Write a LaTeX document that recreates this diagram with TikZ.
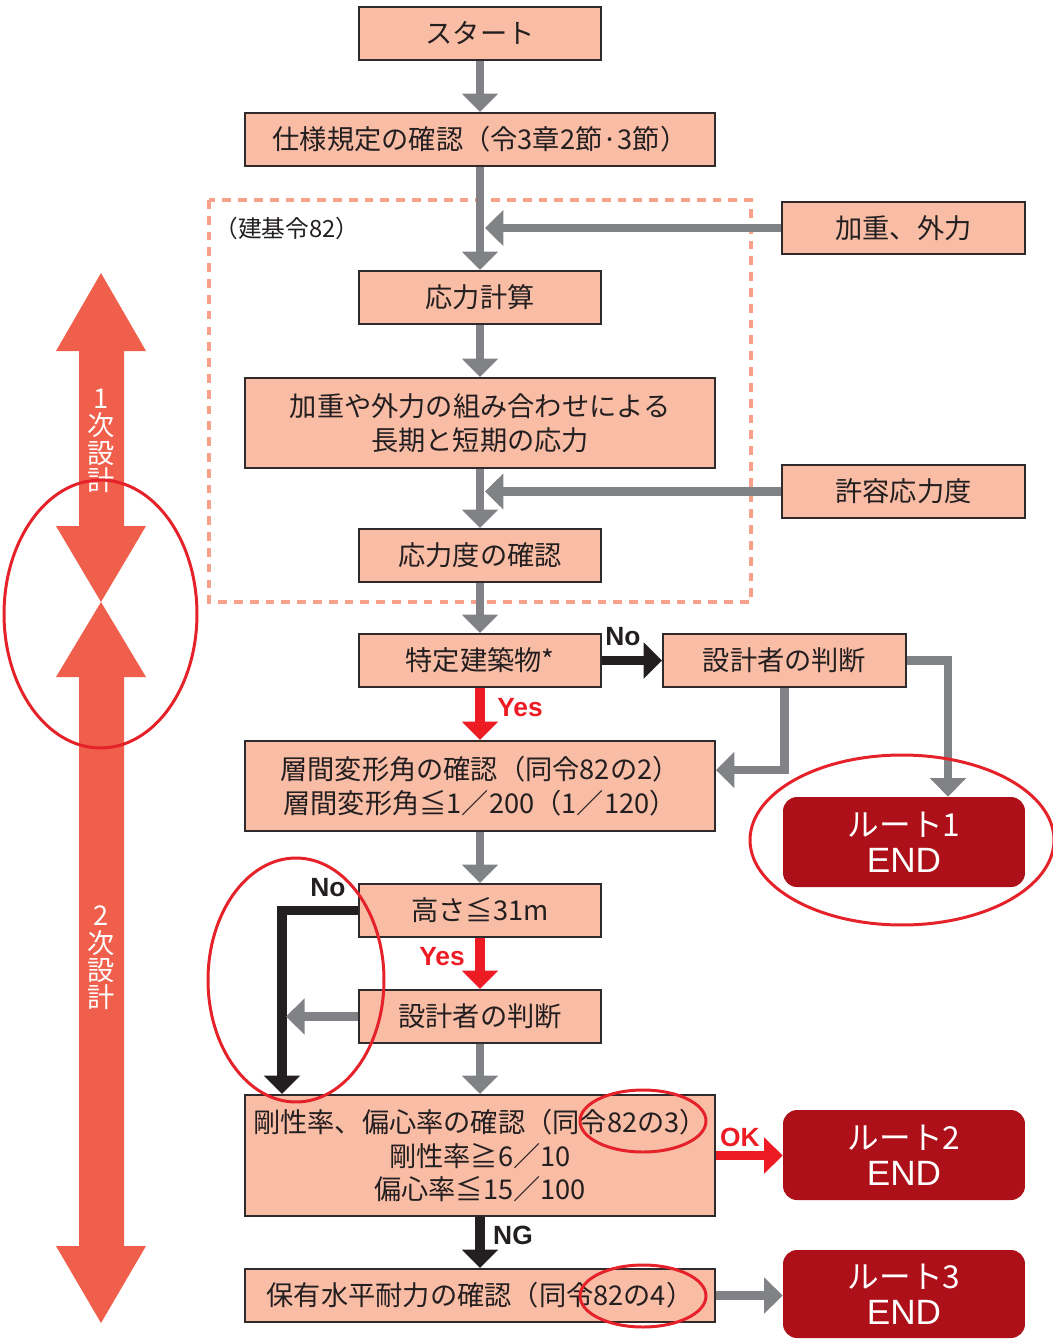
\documentclass[tikz,border=0pt]{standalone}
\usepackage{fontspec}
\setmainfont{Noto Sans CJK JP}
\newfontfamily\labfont{Liberation Sans}
\usetikzlibrary{arrows.meta,calc}
\definecolor{peach}{HTML}{F9BCA5}
\definecolor{bordc}{HTML}{2F2A2B}
\definecolor{textc}{HTML}{231F20}
\definecolor{grayc}{HTML}{808285}
\definecolor{blackc}{HTML}{231F20}
\definecolor{redc}{HTML}{ED1C24}
\definecolor{endc}{HTML}{AD1019}
\definecolor{orangec}{HTML}{F05F4B}
\definecolor{ellc}{HTML}{E52129}
\definecolor{dashc}{HTML}{F8A08A}
\newcommand{\routeword}{{\labfont\fontsize{20}{20.5}\selectfont END}}
\begin{document}
\begin{tikzpicture}[x=0.02cm,y=-0.02cm,
  box/.style={draw=bordc, fill=peach, line width=1.1pt, inner sep=0pt, align=center, text=textc,
    font=\fontsize{15.5}{19}\selectfont},
  smallbox/.style={box, minimum width=4.84cm, minimum height=1.06cm},
  widebox/.style={box, minimum width=9.4cm},
  endbox/.style={fill=endc, rounded corners=0.28cm, inner sep=0pt, minimum width=4.84cm, text=white,
    align=center, font=\fontsize{18}{20.5}\selectfont},
  garr/.style={draw=grayc, line width=4.8pt, -{Triangle[width=20pt,length=10.5pt]}},
  karr/.style={draw=blackc, line width=5.4pt, -{Triangle[width=20pt,length=10.5pt]}},
  rarr/.style={draw=redc, line width=5.4pt, -{Triangle[width=20pt,length=10.5pt]}},
  lab/.style={inner sep=0pt, font=\labfont\bfseries\fontsize{15}{15}\selectfont, text=blackc},
  note/.style={inner sep=0pt, text=textc, font=\fontsize{13.5}{16}\selectfont},
  vtext/.style={inner sep=0pt, text=white, align=center, font=\fontsize{15.5}{15.6}\selectfont},
  ell/.style={draw=ellc, line width=1.7pt},
  dashbox/.style={draw=dashc, line width=1.8pt, dash pattern=on 5pt off 4pt}
]
\useasboundingbox (0,0) rectangle (1053,1340);

% big orange double arrows
\fill[orangec] (101,273) -- (146,351) -- (124,351) -- (124,526) -- (146,526) -- (101,602)
  -- (56,526) -- (79,526) -- (79,351) -- (56,351) -- cycle;
\fill[orangec] (101,602) -- (146,677) -- (124,677) -- (124,1246) -- (146,1246) -- (101,1323)
  -- (56,1246) -- (79,1246) -- (79,677) -- (56,677) -- cycle;
\node[vtext] (v1) at (101,441) {1\\次\\設\\計};
\node[vtext] (v2) at (101,958) {2\\次\\設\\計};

% dashed region
\draw[dashbox] (209,200) rectangle (751,602);
\node[note] (kenki) at (287,228) {（建基令82）};

% nodes
\node[smallbox] (start) at (480,33.5) {スタート};
\node[widebox, minimum height=1.06cm] (spec) at (480,139.5) {仕様規定の確認（令3章2節·3節）};
\node[smallbox, minimum width=4.86cm, minimum height=1.04cm] (load) at (903.5,228) {加重、外力};
\node[smallbox] (stress) at (480,297.5) {応力計算};
\node[widebox, minimum height=1.8cm] (combo) at (480,423) {加重や外力の組み合わせによる\\長期と短期の応力};
\node[smallbox, minimum width=4.86cm] (allow) at (903.5,491.5) {許容応力度};
\node[smallbox] (check) at (480,555.5) {応力度の確認};
\node[smallbox] (tok) at (480,660.5) {特定建築物*};
\node[smallbox, minimum width=4.86cm] (judgeA) at (784.5,660.5) {設計者の判断};
\node[widebox, minimum height=1.8cm] (drift) at (480,786) {層間変形角の確認（同令82の2）\\層間変形角≦1／200（1／120）};
\node[endbox, minimum height=1.8cm] (r1) at (904,842) {ルート1\\\routeword};
\node[smallbox] (height) at (480,910.5) {高さ≦31m};
\node[smallbox] (judgeB) at (480,1016.5) {設計者の判断};
\node[widebox, minimum height=2.42cm] (rigid) at (480,1155.5) {剛性率、偏心率の確認（同令82の3）\\剛性率≧6／10\\偏心率≦15／100};
\node[endbox, minimum height=1.8cm] (r2) at (904,1155) {ルート2\\\routeword};
\node[widebox, minimum height=1.06cm] (hold) at (480,1295.5) {保有水平耐力の確認（同令82の4）};
\node[endbox, minimum height=1.76cm] (r3) at (904,1294) {ルート3\\\routeword};

% connectors
\draw[garr] (start.south) -- (spec.north);
\draw[garr] (load.west) -- ($(load.west -| spec.south)+(5,0)$);
\draw[garr] (spec.south) -- (stress.north);
\draw[garr] (stress.south) -- (combo.north);
\draw[garr] (allow.west) -- ($(allow.west -| combo.south)+(5,0)$);
\draw[garr] (combo.south) -- (check.north);
\draw[garr] (check.south) -- (tok.north);
\draw[karr] (tok.east) -- (judgeA.west);
\draw[rarr] (tok.south) -- (drift.north);
\draw[garr] (judgeA.south) |- ($(drift.east)+(0,-16)$);
\draw[garr] (judgeA.east) -| ($(r1.north)+(44,0)$);
\draw[garr] (drift.south) -- (height.north);
\draw[rarr] (height.south) -- (judgeB.north);
\draw[karr] (height.west) -| ($(rigid.north)+(-198,0)$);
\coordinate (judgeBend) at ($(judgeB.west)+(-72,0)$);
\draw[garr] (judgeB.west) -- (judgeBend);
\draw[garr] (judgeB.south) -- (rigid.north);
\draw[rarr] (rigid.east) -- (rigid.east -| r2.west);
\draw[karr] (rigid.south) -- (hold.north);
\draw[garr] (hold.east) -- (hold.east -| r3.west);

% labels
\node[lab] (noA) at (623,637) {No};
\node[lab, text=redc] (yesA) at (520,708) {Yes};
\node[lab] (noB) at (328,888) {No};
\node[lab, text=redc] (yesB) at (442,957) {Yes};
\node[lab, text=redc] (okL) at (740,1137) {OK};
\node[lab] (ngL) at (513,1235) {NG};

% red ellipses
\draw[ell] (100.5,614) ellipse [x radius=1.93cm, y radius=2.68cm];
\draw[ell] (902,840) ellipse [x radius=3.04cm, y radius=1.70cm];
\draw[ell] (296,980) ellipse [x radius=1.76cm, y radius=2.44cm];
\draw[ell] (643,1121) ellipse [x radius=1.26cm, y radius=0.62cm];
\draw[ell] (643,1296) ellipse [x radius=1.26cm, y radius=0.62cm];
\end{tikzpicture}
\end{document}
